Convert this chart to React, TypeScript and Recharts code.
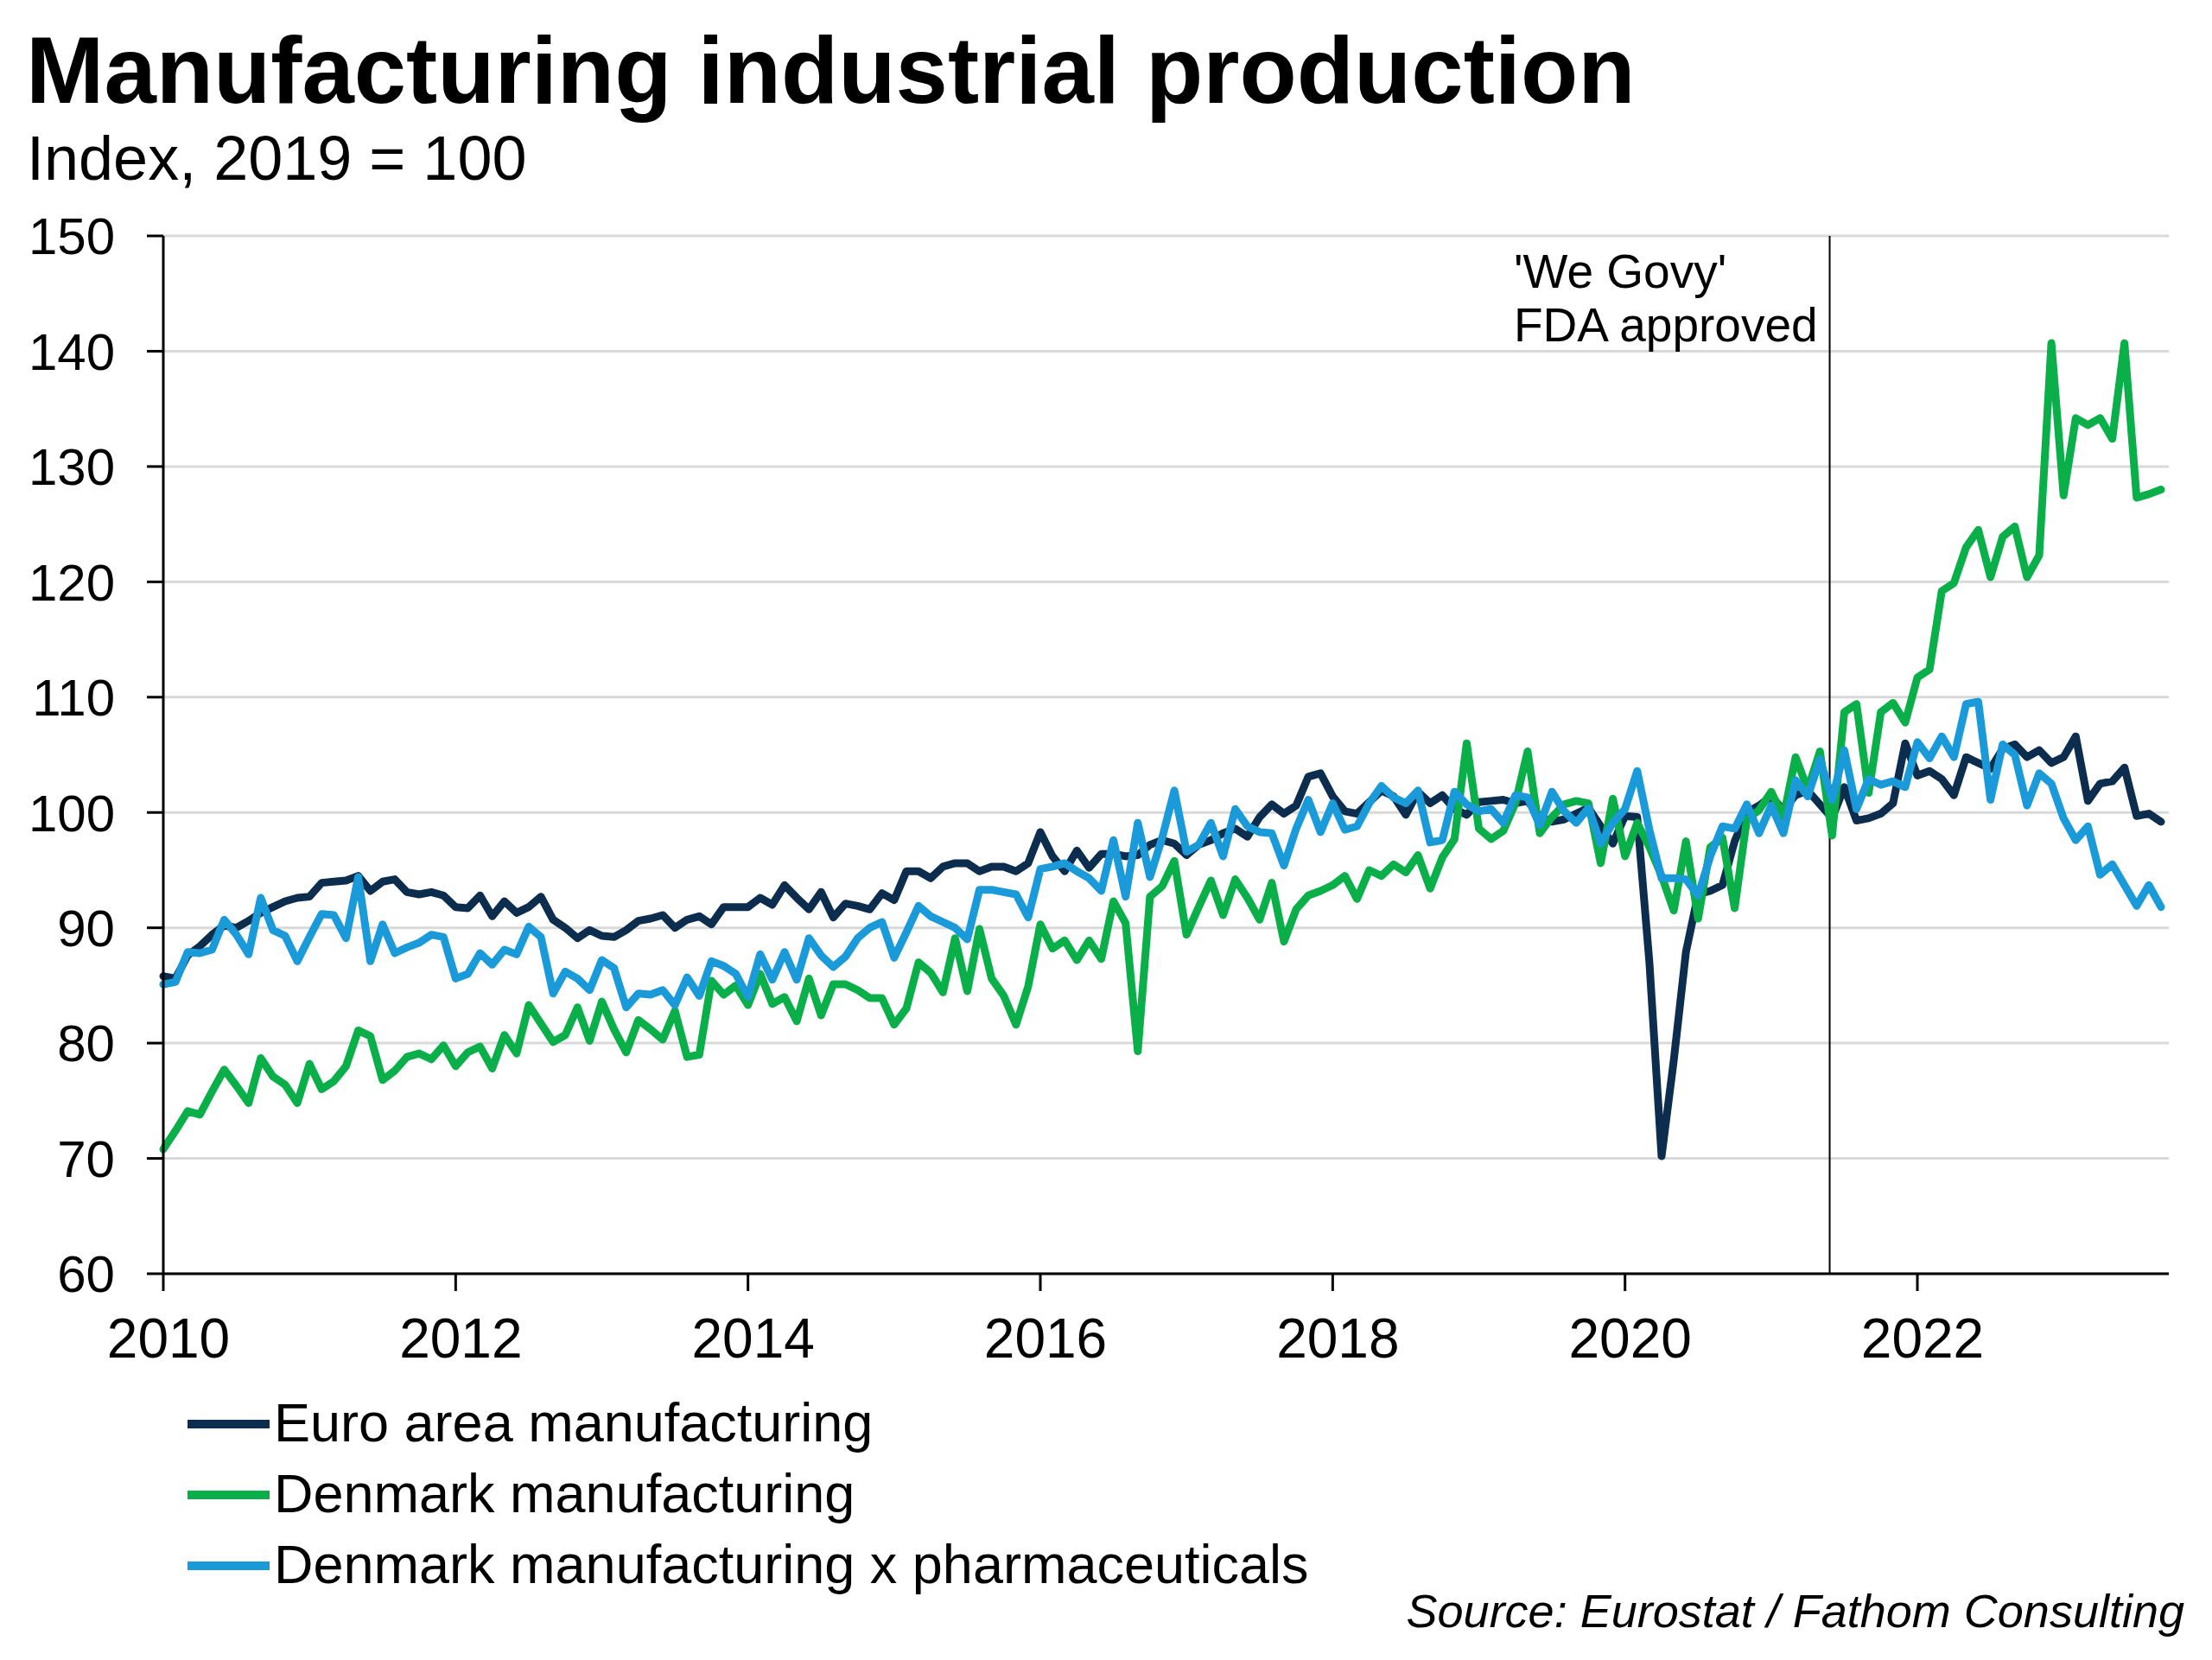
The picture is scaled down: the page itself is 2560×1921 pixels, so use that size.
import React from 'react';
import { LineChart, Line, XAxis, YAxis, CartesianGrid, ReferenceLine } from 'recharts';

// Monthly index values, Jan 2010 .. Sep 2023 (2019 = 100), one row per year
const euroArea = [
  85.8, 85.6, 87.6, 88.4, 89.4, 90.2, 90.0, 90.6, 91.3, 91.8, 92.3, 92.6,
  92.7, 93.9, 94.0, 94.1, 94.5, 93.2, 94.0, 94.2, 93.1, 92.9, 93.1, 92.8,
  91.8, 91.7, 92.8, 91.0, 92.3, 91.3, 91.8, 92.7, 90.7, 90.0, 89.1, 89.8,
  89.3, 89.2, 89.8, 90.6, 90.8, 91.1, 90.0, 90.7, 91.0, 90.3, 91.8, 91.8,
  91.8, 92.6, 92.0, 93.7, 92.6, 91.6, 93.1, 90.9, 92.1, 91.9, 91.6, 93.0,
  92.4, 94.9, 94.9, 94.3, 95.3, 95.6, 95.6, 94.9, 95.3, 95.3, 94.9, 95.6,
  98.3, 96.2, 94.9, 96.7, 95.2, 96.4, 96.4, 96.2, 96.3, 97.2, 97.6, 97.3,
  96.3, 97.2, 97.6, 98.2, 98.6, 97.9, 99.6, 100.7, 99.9, 100.6, 103.1, 103.4,
  101.4, 100.1, 99.9, 100.9, 101.9, 101.4, 99.8, 101.8, 100.8, 101.5, 100.3, 99.8,
  100.9, 101.0, 101.1, 100.8, 101.0, 99.6, 99.2, 99.4, 99.9, 100.4, 98.8, 97.3,
  99.7, 99.6, 87.0, 70.2, 78.5, 87.9, 92.9, 93.2, 93.7, 97.5, 100.0, 100.6,
  101.4, 100.2, 101.5, 101.9, 100.7, 99.5, 102.2, 99.3, 99.5, 99.9, 100.8, 106.0,
  103.2, 103.6, 102.9, 101.5, 104.8, 104.3, 103.8, 105.5, 105.9, 104.8, 105.4, 104.3,
  104.8, 106.6, 101.0, 102.5, 102.7, 103.9, 99.7, 99.9, 99.2,
];

const denmark = [
  70.8, 72.4, 74.1, 73.8, 75.8, 77.7, 76.3, 74.8, 78.7, 77.1, 76.4, 74.8,
  78.2, 76.0, 76.7, 78.0, 81.1, 80.6, 76.8, 77.6, 78.8, 79.1, 78.6, 79.8,
  78.0, 79.2, 79.7, 77.8, 80.7, 79.1, 83.3, 81.7, 80.1, 80.7, 83.1, 80.2,
  83.6, 81.2, 79.2, 82.0, 81.2, 80.3, 82.8, 78.8, 79.0, 85.4, 84.2, 85.0,
  83.3, 86.0, 83.4, 84.0, 81.9, 85.6, 82.4, 85.1, 85.1, 84.6, 83.9, 83.9,
  81.6, 83.0, 87.0, 86.1, 84.4, 89.1, 84.5, 89.9, 85.6, 84.1, 81.6, 84.9,
  90.3, 88.2, 88.9, 87.2, 88.9, 87.3, 92.3, 90.4, 79.3, 92.7, 93.6, 95.8,
  89.4, 91.8, 94.1, 91.1, 94.2, 92.6, 90.7, 93.9, 88.8, 91.6, 92.8, 93.2,
  93.7, 94.5, 92.5, 95.0, 94.5, 95.5, 94.8, 96.3, 93.4, 96.1, 97.7, 106.0,
  98.6, 97.7, 98.4, 100.8, 105.3, 98.2, 99.6, 100.7, 101.0, 100.8, 95.6, 101.2,
  96.2, 99.1, 97.0, 94.5, 91.5, 97.5, 90.8, 97.0, 97.8, 91.7, 99.4, 100.2,
  101.8, 99.6, 104.8, 102.0, 105.3, 98.0, 108.7, 109.4, 101.7, 108.7, 109.5, 107.8,
  111.7, 112.4, 119.2, 119.9, 123.0, 124.5, 120.4, 123.9, 124.8, 120.4, 122.3, 140.7,
  127.5, 134.2, 133.6, 134.2, 132.4, 140.7, 127.3, 127.6, 128.0,
];

const denmarkExPharma = [
  85.1, 85.3, 87.9, 87.8, 88.1, 90.7, 89.4, 87.7, 92.6, 89.8, 89.3, 87.1,
  89.2, 91.2, 91.1, 89.1, 94.4, 87.1, 90.3, 87.8, 88.3, 88.7, 89.4, 89.2,
  85.6, 86.0, 87.8, 86.8, 88.1, 87.7, 90.1, 89.2, 84.3, 86.2, 85.6, 84.6,
  87.2, 86.5, 83.1, 84.3, 84.2, 84.6, 83.3, 85.7, 84.1, 87.1, 86.7, 86.0,
  84.0, 87.7, 85.5, 87.9, 85.5, 89.1, 87.6, 86.6, 87.5, 89.1, 90.0, 90.5,
  87.4, 89.6, 91.9, 91.0, 90.5, 90.0, 89.0, 93.3, 93.3, 93.1, 92.9, 90.9,
  95.1, 95.3, 95.6, 94.9, 94.3, 93.2, 97.6, 92.7, 99.1, 94.4, 97.8, 101.9,
  96.6, 97.2, 99.1, 96.2, 100.3, 98.8, 98.3, 98.2, 95.4, 98.6, 101.1, 98.3,
  100.8, 98.5, 98.8, 100.8, 102.3, 101.3, 100.8, 101.9, 97.4, 97.6, 101.8, 100.7,
  100.1, 100.3, 99.1, 101.5, 101.3, 98.9, 101.8, 100.1, 99.1, 100.4, 97.3, 99.1,
  100.3, 103.6, 98.5, 94.3, 94.3, 94.2, 92.8, 96.2, 98.8, 98.6, 100.7, 98.2,
  100.6, 98.2, 102.8, 101.4, 104.6, 101.1, 105.4, 100.3, 102.9, 102.4, 102.7, 102.2,
  106.1, 104.7, 106.6, 104.8, 109.4, 109.6, 101.1, 105.9, 105.0, 100.6, 103.4, 102.5,
  99.5, 97.6, 98.8, 94.6, 95.5, 93.7, 91.9, 93.7, 91.8,
];

const START_YEAR = 2010;
const yearTicks = [2010, 2012, 2014, 2016, 2018, 2020, 2022];
const valueTicks = [60, 70, 80, 90, 100, 110, 120, 130, 140, 150];
const WEGOVY_APPROVAL = 2021.4;

const series = [
  { key: 'euro', name: 'Euro area manufacturing', color: '#0c2d4e' },
  { key: 'dk', name: 'Denmark manufacturing', color: '#0aaf4a' },
  { key: 'dkx', name: 'Denmark manufacturing x pharmaceuticals', color: '#1a9ad9' },
];

const data = euroArea.map((v, i) => ({
  t: START_YEAR + i / 12,
  euro: v,
  dk: denmark[i],
  dkx: denmarkExPharma[i],
}));

const FONT = '"Liberation Sans", Arial, Helvetica, sans-serif';

export default function App() {
  return (
    <div style={{ position: 'absolute', left: 0, top: 0, width: 2560, height: 1921, background: '#fff', fontFamily: FONT }}>
      <LineChart width={2560} height={1921} data={data} margin={{ top: 273, right: 50, bottom: 347, left: 0 }}>
        <CartesianGrid vertical={false} stroke="#d9d9d9" strokeWidth={3} />
        <XAxis
          dataKey="t"
          type="number"
          domain={[2010, 2023.72]}
          ticks={yearTicks}
          interval={0}
          height={100}
          tickSize={20}
          tickMargin={32}
          tickFormatter={(v) => String(v)}
          tick={{ fill: '#000', fontSize: 64, fontFamily: FONT, dx: 6 }}
          axisLine={{ stroke: '#000', strokeWidth: 3 }}
          tickLine={{ stroke: '#000', strokeWidth: 3 }}
        />
        <YAxis
          domain={[60, 150]}
          ticks={valueTicks}
          interval={0}
          width={189}
          tickSize={19}
          tickMargin={37}
          tick={{ fill: '#000', fontSize: 60, fontFamily: FONT }}
          axisLine={{ stroke: '#000', strokeWidth: 3 }}
          tickLine={{ stroke: '#000', strokeWidth: 3 }}
        />
        <ReferenceLine x={WEGOVY_APPROVAL} stroke="#000" strokeWidth={2} />
        {series.map((s) => (
          <Line
            key={s.key}
            dataKey={s.key}
            name={s.name}
            type="linear"
            stroke={s.color}
            strokeWidth={9}
            strokeLinejoin="round"
            strokeLinecap="round"
            dot={false}
            activeDot={false}
            isAnimationActive={false}
          />
        ))}
      </LineChart>

      <svg width={2560} height={1921} style={{ position: 'absolute', left: 0, top: 0, pointerEvents: 'none' }} fontFamily={FONT}>
        <text x={30} y={119} fontSize={108.5} fontWeight="bold" fill="#000">Manufacturing industrial production</text>
        <text x={31} y={208} fontSize={72} fill="#000">Index, 2019 = 100</text>

        <text x={1752} y={333} fontSize={55} fill="#000">'We Govy'</text>
        <text x={1752} y={395} fontSize={55} fill="#000">FDA approved</text>

        {series.map((s, i) => (
          <g key={s.key}>
            <line x1={217} x2={312} y1={1648 + i * 82} y2={1648 + i * 82} stroke={s.color} strokeWidth={10} />
            <text x={317} y={1668 + i * 82} fontSize={63} fill="#000">{s.name}</text>
          </g>
        ))}

        <text x={2528} y={1883} fontSize={54} fontStyle="italic" textAnchor="end" fill="#000">
          Source: Eurostat / Fathom Consulting
        </text>
      </svg>
    </div>
  );
}
